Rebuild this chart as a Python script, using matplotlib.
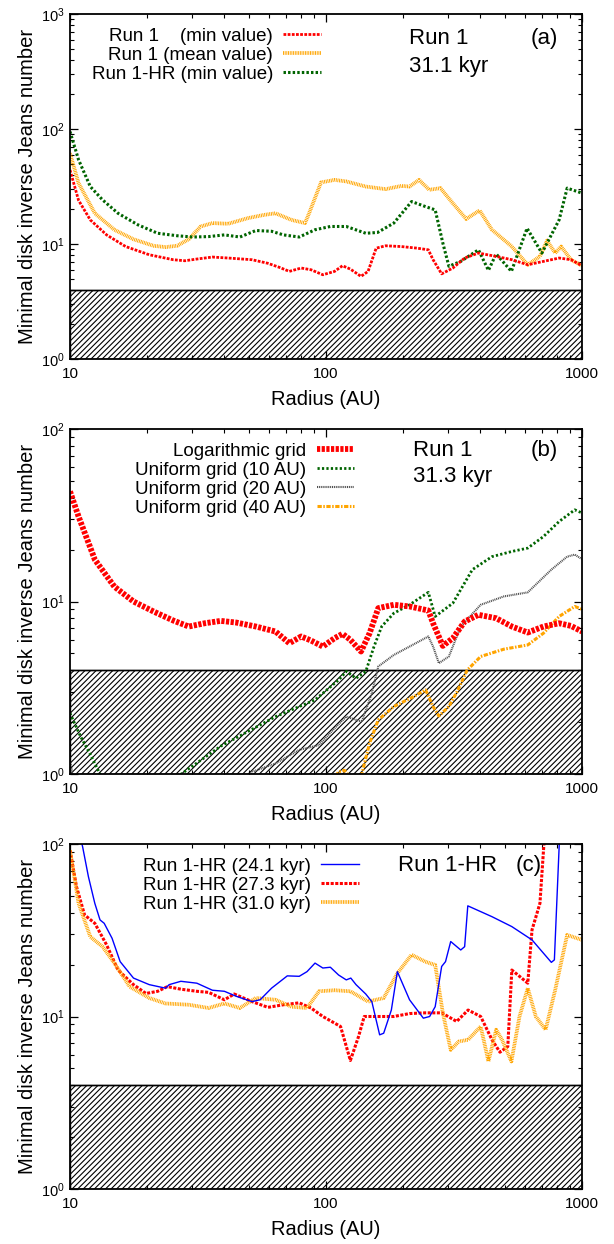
import numpy as np
import matplotlib
matplotlib.use('Agg')
import matplotlib.pyplot as plt
from matplotlib.ticker import LogLocator, NullFormatter, FuncFormatter

plt.rcParams['font.family'] = ['Liberation Sans', 'DejaVu Sans']
plt.rcParams['hatch.linewidth'] = 0.8

# --- panel (a): Run 1, 31.1 kyr ---
r_a_min = [10, 10.8, 12.0, 13.9, 16.5, 20.4, 25.3, 28.1, 31.3, 36.0, 41.5, 51.4, 59.2, 65.8, 71.9,
           80, 87.4, 97.2, 108, 116, 124.5, 137, 146, 157, 171, 197, 227, 251, 262, 283, 313,
           348, 394, 462, 532, 614, 707, 814, 906, 1000]
j_a_min = [44, 24, 16.2, 12.0, 9.5, 8.06, 7.3, 7.15, 7.4, 7.7, 7.55, 7.3, 6.8, 6.26, 5.78,
           6.18, 5.97, 5.4, 5.78, 6.47, 6.05, 5.23, 5.78, 9.2, 9.65, 9.5, 9.2, 8.9, 7.3, 5.5, 6.18,
           7.55, 8.34, 7.8, 7.3, 6.6, 7.06, 7.55, 7.3, 6.47]

r_a_mean = [10, 10.8, 12.5, 14.9, 17.7, 21.2, 23.6, 26.2, 29.1, 32.4, 36, 41.5, 49.6, 57.2, 63.5,
            73.3, 82.8, 85.9, 95.6, 108, 120, 143, 171, 197, 212, 231, 253, 280, 313, 353, 398,
            445, 532, 614, 685, 730, 786, 829, 906, 1000]
j_a_mean = [61.6, 33.8, 18.5, 13.3, 11.0, 9.65, 9.4, 9.65, 11.0, 14.2, 15.2, 15.0, 16.8, 17.9, 18.5,
            16.2, 15.2, 18.5, 34.3, 36.1, 35, 31.6, 30, 32, 31.6, 36.1, 29.6, 30.6, 22.6, 16.5, 19.6,
            13.3, 9.5, 6.6, 7.8, 10.7, 8.34, 9.5, 7.3, 6.47]

r_a_hr = [10, 10.8, 12.0, 13.4, 15.4, 18.4, 22.0, 26.2, 30.2, 34.8, 40.1, 46.1, 53.2, 61.3, 68.2,
          78.6, 90.6, 104, 120, 143, 159, 184, 216, 244, 267, 286, 302, 336, 394, 431, 462, 530,
          610, 697, 814, 875, 1000]
j_a_hr = [95, 54, 31.6, 24.2, 18.5, 14.7, 12.4, 11.8, 11.5, 11.6, 12.0, 11.5, 13.1, 12.9, 12,
          11.5, 13.3, 14.2, 14.2, 12.4, 12.6, 15.2, 23.4, 21.2, 19.8, 10.2, 6.4, 7.06, 8.9, 5.9, 8.2, 5.78,
          13.7, 8.34, 16.2, 30.6, 27.7]

# --- panel (b): Run 1, 31.3 kyr, grid comparison ---
r_b_log = [10, 10.8, 12.5, 14.9, 17.7, 21.2, 25.3, 29.1, 33.6, 38.8, 44.6, 53.2, 63.5, 71.9, 80,
           87.4, 97.2, 108, 116, 124.5, 137, 148, 160, 184, 212, 251, 262, 286, 313, 348, 394,
           462, 532, 614, 707, 814, 906, 1000]
j_b_log = [43.5, 31.1, 17.5, 12.2, 10.0, 8.75, 7.76, 7.16, 7.48, 7.72, 7.55, 7.16, 6.7, 5.73, 6.27,
           5.94, 5.48, 6.13, 6.49, 6.0, 5.13, 6.55, 9.15, 9.57, 9.36, 8.87, 7.48, 5.53, 6.13, 7.65, 8.37,
           8.0, 7.16, 6.61, 7.16, 7.48, 7.22, 6.7]

r_b_u10 = [10, 11, 12, 13.1, 15, 22, 27.2, 38.8, 63.5, 90.6, 112, 120, 131, 143, 154, 165, 184,
           212, 251, 267, 313, 373, 445, 532, 614, 707, 814, 937, 1000]
j_b_u10 = [2.25, 1.65, 1.3, 1.0, 0.7, 0.6, 1.0, 1.45, 2.15, 2.69, 3.51, 3.93, 3.59, 3.93, 5.48, 7.16, 8.55,
           9.57, 11.3, 8.19, 9.78, 15.3, 18.2, 19.5, 20.4, 23.8, 29.1, 34, 32.6]

r_b_u20 = [10, 10.3, 20, 45, 51.4, 63.5, 78.6, 93.9, 108, 120, 138, 151, 160, 184, 212, 251, 262,
           276, 302, 336, 402, 495, 614, 759, 875, 937, 1000]
j_b_u20 = [1.2, 0.95, 0.5, 0.6, 1.03, 1.15, 1.38, 1.47, 1.84, 2.15, 2.01, 2.94, 4.2, 4.9, 5.48, 6.27, 5.48,
           4.39, 4.8, 7.16, 9.57, 10.7, 11.3, 15.3, 18.2, 18.7, 17.6]

r_b_u40 = [100, 112, 118, 125, 133, 138, 148, 160, 184, 220, 245, 262, 276, 302, 325, 356, 402,
           495, 614, 707, 814, 937, 1000]
j_b_u40 = [0.8, 1.03, 1.05, 0.95, 0.9, 1.0, 1.51, 2.06, 2.46, 2.81, 3.07, 2.46, 2.17, 2.46, 3.0, 4.0, 4.8,
           5.29, 5.6, 6.55, 8.19, 9.36, 9.02]

# --- panel (c): Run 1-HR at three times ---
r_c_241 = [10.4, 11.2, 11.8, 12.5, 13.1, 13.6, 14.6, 15.7, 17.7, 20.4, 23.6, 24.4, 27.1, 31.3, 36.0,
           40.1, 44.6, 51.4, 55.3, 61.3, 70.6, 78.6, 84.3, 90.6, 97.2, 104, 112, 120, 125, 131,
           143, 151, 162, 168, 180, 190, 212, 240, 254, 267, 283, 293, 307, 336, 348, 358, 445,
           532, 638, 759, 780, 815, 850]
j_c_241 = [150, 96.5, 64.7, 45.3, 36.3, 34.7, 28.4, 20.8, 16.7, 15.3, 14.6, 15.3, 16.0, 15.6, 14.2,
           14.0, 13.1, 12.2, 12.5, 14.6, 17.2, 17.1, 18.2, 20.4, 19.1, 19.3, 17.4, 16.3, 16.7, 15.3,
           13.5, 12.2, 7.83, 8.0, 10.9, 18.2, 12.5, 9.78, 10, 11.4, 19.5, 20.8, 27.2, 24.3, 25.4, 43.8, 37.9,
           33.2, 27.8, 20.6, 21.3, 100, 200]

r_c_273 = [10, 10.6, 11.4, 12.5, 13.9, 15.4, 17.7, 19.8, 22.0, 24.0, 27.1, 31.3, 34.8, 40.1, 43.8,
           51.4, 59.3, 68.3, 78.6, 87.4, 97.2, 114, 124.5, 134, 141, 159, 184, 212, 244, 283, 324,
           359, 402, 445, 478, 513, 532, 570, 614, 638, 685, 710, 760]
j_c_273 = [92, 56.6, 38.8, 34.7, 26, 18.6, 15.3, 13.6, 14.0, 14.9, 14.4, 14.0, 13.8, 12.5, 13.5,
           12.2, 11.3, 11.7, 12.0, 11.2, 10.0, 8.75, 5.56, 7.65, 10, 10, 10, 10.4, 10.5, 10.5, 9.36,
           10.9, 10, 7.33, 6.21, 6.7, 18.6, 17.1, 15.6, 31.8, 45.3, 100, 200]

r_c_310 = [10, 10.8, 12.0, 13.4, 14.9, 17.1, 20.4, 23.6, 29.1, 34.8, 40.1, 46.1, 53.2, 63.5, 73.3,
           84.3, 93.9, 108, 124.5, 146, 168, 190, 216, 244, 267, 286, 307, 330, 359, 402, 431,
           462, 487, 530, 570, 614, 660, 721, 786, 875, 1000]
j_c_310 = [92, 45.3, 29, 25.4, 20.4, 14.9, 12.8, 11.9, 11.7, 11.2, 11.9, 11.2, 12.8, 12.5, 11.4,
           11.2, 14.0, 14.2, 14.0, 12.2, 12.8, 17.8, 22.8, 20.8, 19.9, 10.5, 6.41, 7.16, 7.33, 8.75, 5.49,
           8.38, 7.33, 5.49, 10, 14.6, 10, 8.38, 14.3, 29.7, 27.8]

threshold = 4.0
x_range = [10, 1000]

fig = plt.figure(figsize=(6.14, 12.44), dpi=100)
W, H = 614.0, 1244.0
left, width = 70 / W, 512 / W
ax_a = fig.add_axes([left, 1 - 359 / H, width, 345 / H])
ax_b = fig.add_axes([left, 1 - 774 / H, width, 345 / H])
ax_c = fig.add_axes([left, 1 - 1189 / H, width, 345 / H])


def style_axes(ax, ylim):
    ax.set_xscale('log')
    ax.set_yscale('log')
    ax.set_xlim(x_range)
    ax.set_ylim(ylim)
    # zone below the threshold, hatched
    ax.fill_between(x_range, ylim[0], threshold, facecolor='white', edgecolor='black',
                    hatch='//////', linewidth=1.0, zorder=1)
    ax.axhline(threshold, color='black', lw=1.0, zorder=1.5)
    ax.xaxis.set_major_locator(LogLocator(base=10))
    ax.xaxis.set_minor_locator(LogLocator(base=10, subs=np.arange(2, 10)))
    ax.yaxis.set_minor_locator(LogLocator(base=10, subs=np.arange(2, 10)))
    ax.xaxis.set_minor_formatter(NullFormatter())
    ax.yaxis.set_minor_formatter(NullFormatter())
    ax.xaxis.set_major_formatter(FuncFormatter(lambda v, p: '%d' % v))
    ax.tick_params(which='both', direction='in', top=True, right=True)
    ax.tick_params(axis='x', labelsize=11, pad=6)
    ax.tick_params(axis='y', labelsize=10.5, pad=4)
    ax.tick_params(which='major', length=6, width=0.9)
    ax.tick_params(which='minor', length=3, width=0.8)
    for s in ax.spines.values():
        s.set_linewidth(1.3)
        s.set_zorder(5)
    ax.set_xlabel('Radius (AU)', fontsize=14.5, labelpad=6)
    ax.set_ylabel('Minimal disk inverse Jeans number', fontsize=14.5, labelpad=3)


def add_legend(ax, x_right):
    leg = ax.legend(loc='upper right', bbox_to_anchor=(x_right, 0.960), markerfirst=False,
                    frameon=False, fontsize=13.5, handlelength=2.0, handletextpad=0.55,
                    labelspacing=0.1, borderpad=0, borderaxespad=0)
    return leg


# panel (a)
style_axes(ax_a, (1, 1000))
ax_a.plot(r_a_min, j_a_min, color='#FF0000', lw=2.0, dashes=(1.0, 0.5), zorder=4,
          label='Run 1    (min value)')
ax_a.plot(r_a_mean, j_a_mean, color='#FFA500', lw=2.7, dashes=(0.25, 0.2), zorder=3,
          label='Run 1 (mean value)')
ax_a.plot(r_a_hr, j_a_hr, color='#006400', lw=2.2, dashes=(0.8, 0.7), zorder=3,
          label='Run 1-HR (min value)')
add_legend(ax_a, 0.49)
ax_a.text(0.662, 0.930, 'Run 1', transform=ax_a.transAxes, fontsize=16, va='center')
ax_a.text(0.662, 0.849, '31.1 kyr', transform=ax_a.transAxes, fontsize=16, va='center')
ax_a.text(0.900, 0.930, '(a)', transform=ax_a.transAxes, fontsize=16, va='center')

# panel (b)
style_axes(ax_b, (1, 100))
ax_b.plot(r_b_log, j_b_log, color='#FF0000', lw=4.2, dashes=(0.55, 0.25), zorder=4,
          label='Logarithmic grid')
ax_b.plot(r_b_u10, j_b_u10, color='#006400', lw=2.0, dashes=(0.8, 0.8), zorder=3,
          label='Uniform grid (10 AU)')
ax_b.plot(r_b_u20, j_b_u20, color='#505050', lw=1.5, dashes=(0.5, 0.4), zorder=3,
          label='Uniform grid (20 AU)')
ax_b.plot(r_b_u40, j_b_u40, color='#FFA500', lw=2.2, dashes=(1.4, 0.5, 0.5, 0.5), zorder=3,
          label='Uniform grid (40 AU)')
add_legend(ax_b, 0.555)
ax_b.text(0.670, 0.939, 'Run 1', transform=ax_b.transAxes, fontsize=16, va='center')
ax_b.text(0.670, 0.861, '31.3 kyr', transform=ax_b.transAxes, fontsize=16, va='center')
ax_b.text(0.900, 0.939, '(b)', transform=ax_b.transAxes, fontsize=16, va='center')

# panel (c)
style_axes(ax_c, (1, 100))
ax_c.plot(r_c_241, j_c_241, color='#0000FF', lw=1.0, zorder=4, label='Run 1-HR (24.1 kyr)')
ax_c.plot(r_c_273, j_c_273, color='#FF0000', lw=2.2, dashes=(1.0, 0.5), zorder=3,
          label='Run 1-HR (27.3 kyr)')
ax_c.plot(r_c_310, j_c_310, color='#FFA500', lw=2.7, dashes=(0.25, 0.2), zorder=3,
          label='Run 1-HR (31.0 kyr)')
add_legend(ax_c, 0.564)
ax_c.text(0.641, 0.939, 'Run 1-HR', transform=ax_c.transAxes, fontsize=16, va='center')
ax_c.text(0.871, 0.939, '(c)', transform=ax_c.transAxes, fontsize=16, va='center')

fig.savefig('out.png', dpi=100)
